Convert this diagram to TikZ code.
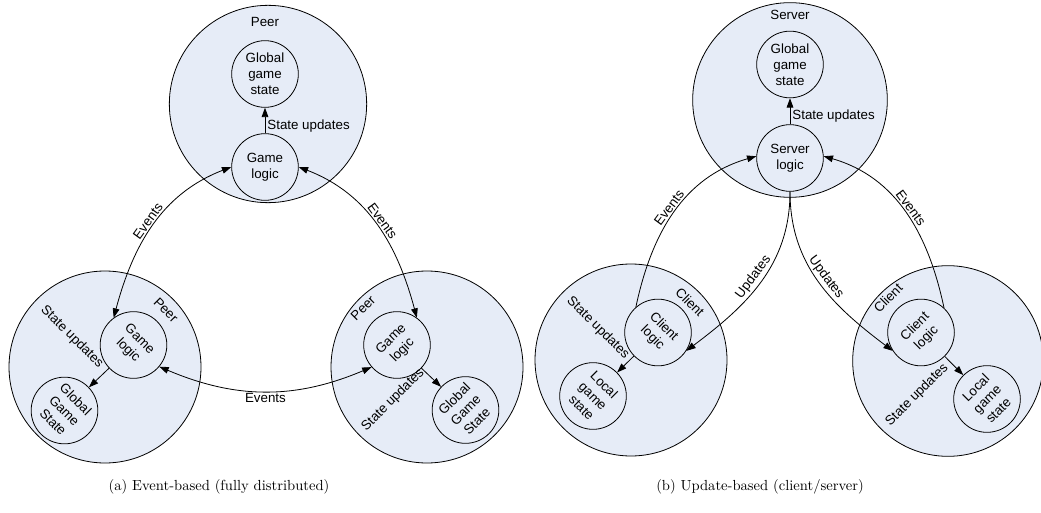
\documentclass[tikz,border=0pt]{standalone}
\usepackage{fontspec}
\newfontfamily\diagfont{Liberation Sans}
\usetikzlibrary{arrows.meta}
\definecolor{bubble}{RGB}{230,236,247}
\begin{document}
\begin{tikzpicture}[x=0.75pt,y=0.75pt,
  host/.style={circle,draw,fill=bubble,line width=0.6pt,inner sep=0pt},
  part/.style={circle,draw,fill=bubble,line width=0.6pt,minimum size=50pt,inner sep=0pt,
    align=center,font=\diagfont\fontsize{10}{12}\selectfont},
  tag/.style={font=\diagfont\fontsize{10}{12}\selectfont,inner sep=1.5pt},
  flow/.style={line width=0.6pt,-{Triangle[length=7pt,width=5pt]}},
  dflow/.style={line width=0.6pt,{Triangle[length=7pt,width=5pt]}-{Triangle[length=7pt,width=5pt]}},
  subcap/.style={font=\fontsize{10.95}{13}\selectfont,inner sep=0pt}]
\useasboundingbox (0,0) rectangle (1041,-513);

% ---------- (a) event-based ----------
\node[host,minimum size=148pt] (peerT) at (268,-104) {};
\node[host,minimum size=144pt] (peerL) at (105,-367) {};
\node[host,minimum size=144pt] (peerR) at (427,-367) {};

\node[tag] (peerTname) at (265,-22) {Peer};
\node[tag,rotate=-45] (peerLname) at (166,-310) {Peer};
\node[tag,rotate=45] (peerRname) at (363,-308) {Peer};

\node[part] (stateT) at (265,-74) {Global\\game\\state};
\node[part] (logicT) at (265,-167) {Game\\logic};
\node[part,rotate=-45] (logicL) at (133.5,-345) {Game\\logic};
\node[part,rotate=-45] (stateL) at (64.5,-410.5) {Global\\Game\\State};
\node[part,rotate=45] (logicR) at (397,-345) {Game\\logic};
\node[part,rotate=45] (stateR) at (465.5,-410) {Global\\Game\\State};

\draw[flow] (logicT) -- node[tag,right,pos=0.3] (updT) {State updates} (stateT);
\draw[flow] (logicL) -- (stateL);
\node[tag,rotate=-45] (updL) at (72,-337) {State updates};
\draw[flow] (logicR) -- (stateR);
\node[tag,rotate=45] (updR) at (393,-400) {State updates};

\draw[dflow] (logicT.180) to[out=201,in=75]
  node[tag,sloped,above] (evL) {Events} (logicL.171);
\draw[dflow] (logicT.0) to[out=-21,in=105]
  node[tag,sloped,above] (evR) {Events} (logicR.9);
\draw[dflow] (logicL.5) to[out=-23,in=203]
  node[tag,below] (evB) {Events} (logicR.176);

\node[subcap] (capA) at (219,-487) {(a) Event-based (fully distributed)};

% ---------- (b) update-based ----------
\node[host,minimum size=146pt] (server) at (790,-100) {};
\node[host,minimum size=144pt] (clientL) at (631,-360) {};
\node[host,minimum size=143pt] (clientR) at (948,-361) {};

\node[tag] (serverName) at (790,-15) {Server};
\node[tag,rotate=-45] (clientLname) at (690,-302) {Client};
\node[tag,rotate=45] (clientRname) at (888,-298) {Client};

\node[part] (stateS) at (790,-64.5) {Global\\game\\state};
\node[part] (logicS) at (790,-158) {Server\\logic};
\node[part,rotate=-45] (logicCL) at (658,-332.5) {Client\\logic};
\node[part,rotate=-45] (stateCL) at (593,-396) {Local\\game\\state};
\node[part,rotate=45] (logicCR) at (921,-332.5) {Client\\logic};
\node[part,rotate=45] (stateCR) at (987,-399) {Local\\game\\state};

\draw[flow] (logicS) -- node[tag,right,pos=0.3] (updS) {State updates} (stateS);
\draw[flow] (logicCL) -- (stateCL);
\node[tag,rotate=-45] (updCL) at (598,-328) {State updates};
\draw[flow] (logicCR) -- (stateCR);
\node[tag,rotate=45] (updCR) at (917,-395) {State updates};

\draw[flow] (logicCL.176.7) to[out=78,in=196]
  node[tag,sloped,above] (evCL) {Events} (logicS.177);
\draw[flow] (logicCR.2) to[out=102,in=-16]
  node[tag,sloped,above] (evCR) {Events} (logicS.3);
\draw[flow] (logicS.south) to[out=270,in=37]
  node[tag,sloped,above] (upCL) {Updates} (logicCL.12.4);
\draw[flow] (logicS.south) to[out=270,in=143]
  node[tag,sloped,above] (upCR) {Updates} (logicCR.168.5);

\node[subcap] (capB) at (760,-487) {(b) Update-based (client/server)};
\end{tikzpicture}
\end{document}
